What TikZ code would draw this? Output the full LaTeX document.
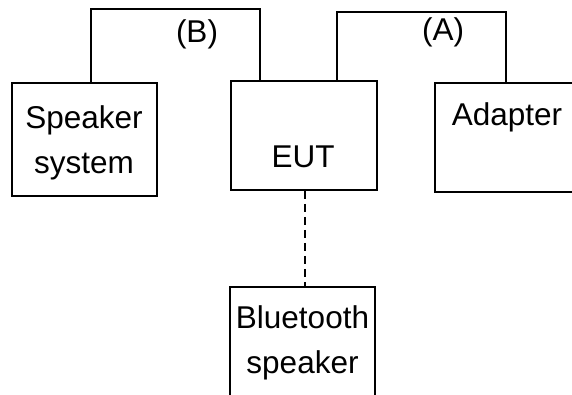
\documentclass[tikz,border=0pt]{standalone}
\usepackage{fontspec}
\setmainfont{Liberation Sans}
\begin{document}
\begin{tikzpicture}[x=1pt,y=-1pt,
  box/.style={draw=black,line width=1.8pt,minimum width=#1,inner sep=0pt},
  lbl/.style={anchor=base,inner sep=0pt,font=\fontsize{31.5}{45}\selectfont},
  wire/.style={line width=1.8pt,line join=miter},
  dashwire/.style={line width=1.8pt,dash pattern=on 8pt off 5pt}]
\useasboundingbox (0,0) rectangle (572,394);
\clip (0,0) rectangle (572,394);
\fill[white] (0,0) rectangle (572,394);
\node[box=145pt,minimum height=113pt] (spk) at (84.5,139.5) {};
\node[box=146pt,minimum height=109pt] (eut) at (304,135.5) {};
\node[box=150pt,minimum height=109pt] (ada) at (510,137.5) {};
\node[box=145pt,minimum height=113pt] (bt) at (302.5,343.5) {};
\node[lbl] (spk1) at (84,128) {Speaker};
\node[lbl] (spk2) at (84,173) {system};
\node[lbl] (eutt) at (303,167) {EUT};
\node[lbl] (adat) at (507,125) {Adapter};
\node[lbl] (bt1) at (302.5,328) {Bluetooth};
\node[lbl] (bt2) at (302.5,373) {speaker};
\node[lbl] (lb) at (197,42) {(B)};
\node[lbl] (la) at (443,40) {(A)};
\coordinate (bL) at (91,9);
\coordinate (bR) at (260,9);
\coordinate (aL) at (337,12);
\coordinate (aR) at (506,12);
\draw[wire] (bL |- spk.north) -- (bL) -- (bR) -- (bR |- eut.north);
\draw[wire] (aL |- eut.north) -- (aL) -- (aR) -- (aR |- ada.north);
\coordinate (dt) at (305,0);
\draw[dashwire] (dt |- eut.south) -- (dt |- bt.north);
\end{tikzpicture}
\end{document}
